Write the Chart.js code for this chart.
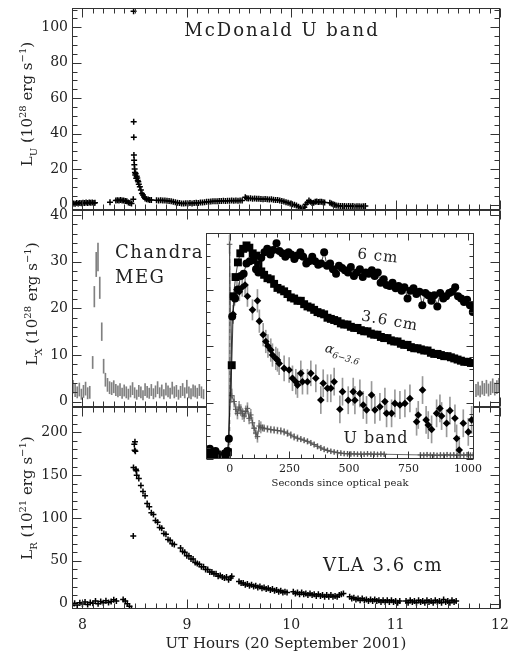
<!DOCTYPE html>
<html>
<head>
<meta charset="utf-8">
<title>Flare of 20 September 2001</title>
<script src="https://cdn.jsdelivr.net/npm/chart.js@4.4.1/dist/chart.umd.min.js"></script>
<style>
  html, body { margin: 0; padding: 0; background: #fff; }
  #wrap { position: relative; width: 512px; height: 653px; }
  #wrap canvas { position: absolute; left: 0; top: 0; }
</style>
</head>
<body>
<div id="wrap">
  <canvas id="uband" width="512" height="653"></canvas>
  <canvas id="xray" width="512" height="653"></canvas>
  <canvas id="radio" width="512" height="653"></canvas>
  <canvas id="inset" width="512" height="653"></canvas>
</div>
<script>
// Tick labels
const hourTicks = [8, 9, 10, 11, 12];
const uTicks = [0, 20, 40, 60, 80, 100];
const xrTicks = [0, 10, 20, 30, 40];
const vlaTicks = [0, 50, 100, 150, 200];
const secTicks = [0, 250, 500, 750, 1000];

// McDonald U band, L_U in 10^28 erg/s
const uHours = [
  7.900, 7.915, 7.930, 7.945, 7.960, 7.975, 7.990, 8.005, 8.020, 8.035,
  8.050, 8.065, 8.080, 8.095, 8.110, 8.120, 8.264, 8.320, 8.335, 8.350,
  8.365, 8.380, 8.395, 8.410, 8.425, 8.440, 8.455, 8.470, 8.487, 8.490,
  8.491, 8.492, 8.493, 8.495, 8.497, 8.500, 8.503, 8.506, 8.510, 8.515,
  8.520, 8.525, 8.530, 8.535, 8.540, 8.550, 8.560, 8.570, 8.580, 8.590,
  8.600, 8.615, 8.630, 8.645, 8.660, 8.71, 8.73, 8.75, 8.77, 8.79,
  8.81, 8.83, 8.85, 8.87, 8.89, 8.91, 8.93, 8.95, 8.97, 8.99,
  9.01, 9.03, 9.05, 9.07, 9.09, 9.11, 9.13, 9.15, 9.17, 9.19,
  9.21, 9.23, 9.25, 9.27, 9.29, 9.31, 9.33, 9.35, 9.37, 9.39,
  9.41, 9.43, 9.45, 9.47, 9.49, 9.51, 9.53, 9.56, 9.575, 9.59,
  9.61, 9.63, 9.65, 9.67, 9.69, 9.71, 9.73, 9.75, 9.77, 9.79,
  9.81, 9.83, 9.85, 9.87, 9.89, 9.91, 9.93, 9.95, 9.97, 9.99,
  10.01, 10.03, 10.05, 10.07, 10.09, 10.11, 10.125, 10.14, 10.155, 10.17,
  10.185, 10.20, 10.215, 10.23, 10.245, 10.26, 10.275, 10.29, 10.305, 10.32,
  10.37, 10.385, 10.40, 10.415, 10.43, 10.45, 10.47, 10.49, 10.51, 10.53,
  10.55, 10.57, 10.59, 10.61, 10.63, 10.65, 10.67, 10.69, 10.71
];
const uLum = [
  0.3, 0.6, 0.4, 0.8, 0.6, 0.9, 0.7, 1.0, 0.8, 1.1,
  0.9, 1.2, 1.0, 1.1, 0.9, 1.0, 1.3, 2.2, 2.4, 2.3,
  2.5, 2.3, 2.2, 2.0, 1.8, 1.2, 0.8, 0.6, 3.0, 109,
  46.7, 37.9, 27.9, 25.0, 22.5, 20.0, 18.0, 16.6, 17.5, 14.8,
  16.0, 15.0, 13.5, 12.9, 11.5, 10.0, 8.2, 6.2, 5.4, 4.2,
  3.4, 3.0, 2.8, 2.6, 2.5, 2.4, 2.3, 2.4, 2.2, 2.3,
  2.1, 2.0, 1.8, 1.6, 1.3, 1.0, 0.8, 0.6, 0.5, 0.7,
  0.5, 0.8, 0.6, 0.9, 1.0, 0.8, 1.1, 1.2, 1.3, 1.5,
  1.6, 1.7, 1.8, 1.8, 1.9, 2.0, 2.0, 2.1, 2.0, 2.1,
  2.1, 2.2, 2.1, 2.2, 2.1, 2.2, 2.2, 4.1, 3.6, 3.4,
  3.5, 3.3, 3.4, 3.2, 3.3, 3.1, 3.0, 3.1, 2.9, 2.8,
  2.9, 2.7, 2.6, 2.5, 2.3, 2.0, 1.7, 1.3, 1.0, 0.6,
  0.2, -0.2, -0.6, -1.2, -1.8, -2.4, -1.5, 0.2, 1.2, 2.2,
  1.6, 0.8, 1.0, 1.5, 1.7, 1.4, 1.6, 1.5, 1.3, 1.2,
  1.0, 0.6, 0.2, -0.2, -0.5, -0.7, -0.8, -0.9, -0.8, -1.0,
  -0.9, -1.0, -0.9, -1.1, -1.0, -1.0, -1.1, -1.0, -0.9
];

// Chandra MEG, L_X in 10^28 erg/s (bin centre, rate, 1 sigma)
const xrHours = [
  7.91, 7.93, 7.95, 7.97, 7.99, 8.01, 8.03, 8.05, 8.07, 8.098,
  8.114, 8.132, 8.149, 8.166, 8.185, 8.203, 8.22, 8.24, 8.26, 8.28,
  8.30, 8.32, 8.34, 8.36, 8.38, 8.40, 8.42, 8.44, 8.46, 8.48,
  8.50, 8.52, 8.54, 8.56, 8.58, 8.60, 8.62, 8.64, 8.66, 8.68,
  8.70, 8.72, 8.74, 8.76, 8.78, 8.80, 8.82, 8.84, 8.86, 8.88,
  8.90, 8.92, 8.94, 8.96, 8.98, 9.00, 9.02, 9.04, 9.06, 9.08,
  9.10, 9.12, 9.14, 9.16, 11.77, 11.79, 11.81, 11.83, 11.85, 11.87,
  11.89, 11.91, 11.93, 11.95, 11.97, 11.99
];
const xrRate = [
  3.2, 2.4, 2.0, 2.6, 1.6, 2.2, 2.8, 1.8, 2.0, 8.4,
  22.5, 29.4, 31.0, 24.4, 15.0, 7.6, 4.7, 3.6, 3.0, 2.8,
  3.2, 2.5, 2.2, 2.6, 1.8, 2.4, 2.0, 1.6, 2.2, 2.8,
  1.9, 1.5, 2.3, 2.0, 1.4, 2.6, 2.1, 1.8, 2.5, 1.7,
  2.2, 3.0, 1.9, 2.4, 1.6, 2.7, 2.2, 1.8, 2.9, 2.0,
  2.3, 1.5, 2.1, 2.6, 1.9, 3.2, 2.0, 1.7, 2.4, 2.2,
  1.8, 2.5, 2.0, 1.6, 2.4, 2.8, 2.2, 3.0, 2.6, 3.2,
  2.5, 2.9, 3.4, 2.7, 3.1, 3.5
];
const xrErr = [
  1.4, 1.3, 1.2, 1.4, 1.1, 1.3, 1.4, 1.2, 1.3, 1.3,
  2.2, 2.6, 3.0, 2.3, 1.9, 1.5, 1.4, 1.4, 1.3, 1.3,
  1.3, 1.2, 1.2, 1.3, 1.1, 1.2, 1.2, 1.1, 1.2, 1.3,
  1.1, 1.0, 1.2, 1.2, 1.0, 1.3, 1.2, 1.1, 1.2, 1.1,
  1.2, 1.3, 1.1, 1.2, 1.0, 1.3, 1.2, 1.1, 1.3, 1.2,
  1.2, 1.0, 1.2, 1.3, 1.1, 1.4, 1.2, 1.1, 1.2, 1.2,
  1.1, 1.2, 1.2, 1.0, 1.3, 1.4, 1.2, 1.4, 1.3, 1.4,
  1.3, 1.4, 1.5, 1.3, 1.4, 1.5
];

// VLA 3.6 cm, L_R in 10^21 erg/s
const vlaHours = [
  7.900, 7.925, 7.950, 7.975, 8.000, 8.025, 8.050, 8.075, 8.100, 8.125,
  8.150, 8.175, 8.200, 8.225, 8.250, 8.275, 8.300, 8.325, 8.39, 8.41,
  8.43, 8.45, 8.47, 8.48, 8.487, 8.489, 8.497, 8.500, 8.503, 8.507,
  8.512, 8.516, 8.52, 8.54, 8.56, 8.58, 8.60, 8.62, 8.64, 8.66,
  8.68, 8.70, 8.72, 8.74, 8.76, 8.78, 8.80, 8.82, 8.84, 8.86,
  8.88, 8.94, 8.96, 8.98, 9.00, 9.02, 9.04, 9.06, 9.08, 9.10,
  9.12, 9.14, 9.16, 9.18, 9.20, 9.22, 9.24, 9.26, 9.28, 9.30,
  9.32, 9.34, 9.36, 9.38, 9.40, 9.42, 9.43, 9.50, 9.52, 9.54,
  9.56, 9.58, 9.60, 9.62, 9.64, 9.66, 9.68, 9.70, 9.72, 9.74,
  9.76, 9.78, 9.80, 9.82, 9.84, 9.86, 9.88, 9.90, 9.92, 9.94,
  9.96, 10.02, 10.04, 10.06, 10.08, 10.10, 10.12, 10.14, 10.16, 10.18,
  10.20, 10.22, 10.24, 10.26, 10.28, 10.30, 10.32, 10.34, 10.36, 10.38,
  10.40, 10.42, 10.44, 10.46, 10.48, 10.50, 10.56, 10.58, 10.60, 10.62,
  10.64, 10.66, 10.68, 10.70, 10.72, 10.74, 10.76, 10.78, 10.80, 10.82,
  10.84, 10.86, 10.88, 10.90, 10.92, 10.94, 10.96, 10.98, 11.00, 11.02,
  11.04, 11.10, 11.12, 11.14, 11.16, 11.18, 11.20, 11.22, 11.24, 11.26,
  11.28, 11.30, 11.32, 11.34, 11.36, 11.38, 11.40, 11.42, 11.44, 11.46,
  11.48, 11.50, 11.52, 11.54, 11.56, 11.58
];
const vlaLum = [
  -2.0, 0.5, -1.5, 1.0, -0.5, 2.0, -1.0, 1.5, 0.5, 3.0,
  0.0, 2.5, 1.0, 3.5, 1.5, 2.5, 4.5, 3.0, 5.0, 3.0,
  0.0, -3.0, -6.0, -8.5, 79, 159, 186, 179, 189, 178,
  157, 155, 150, 146, 138, 131, 126, 117, 113, 106,
  104, 97, 95, 89, 88, 82, 81, 75, 74, 70,
  69, 65, 61, 60, 56, 56, 52, 52, 48, 47,
  46, 43, 43, 40, 40, 37, 37, 35, 35, 32,
  33, 31, 30, 31, 28, 30, 32, 26, 24, 24,
  22, 23, 21, 22, 20, 21, 19, 20, 18, 19,
  17, 18, 16, 17, 15, 16, 14, 15, 13, 14,
  13, 14, 12, 13, 11, 13, 11, 12, 10, 12,
  10, 11, 9, 11, 9, 10, 8, 10, 8, 10,
  8, 9, 8, 10, 11, 12, 8, 6, 7, 5,
  6, 4, 6, 4, 5, 3, 5, 3, 5, 3,
  4, 2, 4, 2, 4, 2, 4, 2, 3, 1,
  3, 3, 1, 4, 2, 3, 1, 4, 2, 3,
  1, 4, 2, 3, 1, 4, 2, 3, 1, 5,
  2, 3, 1, 4, 2, 3
];

// Inset: seconds since optical peak, scaled flux (0-100)
const sec6 = [
  -96, -84, -72, -60, -20, -10, -4, 10, 22, 34,
  46, 58, 70, 84, 98, 110, 120, 132, 145, 157,
  170, 182, 196, 208, 220, 233, 246, 258, 271, 283,
  296, 308, 321, 333, 346, 358, 371, 383, 396, 408,
  421, 433, 446, 458, 471, 483, 496, 508, 521, 533,
  546, 558, 571, 583, 596, 608, 621, 633, 646, 658,
  671, 683, 696, 708, 721, 733, 746, 758, 771, 783,
  796, 808, 821, 833, 846, 858, 871, 883, 896, 908,
  921, 933, 946, 958, 971, 983, 996, 1008, 1020
];
const flux6 = [
  3.5, 4.5, 2.5, 3.5, 2.5, 3.5, 9, 63, 71, 75,
  81, 82, 86.5, 87.5, 88, 84, 82.5, 89, 91.5, 93,
  90.5, 92.5, 95.5, 92, 91, 89.5, 91.5, 90.5, 88.5, 90,
  91.5, 89.5, 86.5, 87.5, 89.5, 87.5, 86, 86.5, 91.5, 85.5,
  86.5, 84, 82, 85.5, 84.5, 83.5, 82.5, 85, 81, 82.5,
  84, 80.5, 82.5, 82, 83.5, 81, 82.5, 78, 79.5, 77,
  76.5, 78, 75.5, 76.5, 74.5, 76, 71, 74.5, 75.5, 73,
  74, 68, 73.5, 72.5, 70, 72.5, 67.5, 73.5, 71, 72,
  73.5, 74, 76, 72, 71, 69.5, 70.5, 68, 65
];
const sec36 = [
  -98, -88, -78, -66, -54, -18, -8, 8, 16, 24,
  34, 44, 56, 70, 82, 96, 110, 120, 132, 144,
  158, 172, 186, 200, 214, 228, 242, 256, 270, 284,
  298, 312, 326, 340, 354, 368, 382, 396, 410, 424,
  438, 452, 466, 480, 494, 508, 522, 536, 550, 564,
  578, 592, 606, 620, 634, 648, 662, 676, 690, 704,
  718, 732, 746, 760, 774, 788, 802, 816, 830, 844,
  858, 872, 886, 900, 914, 928, 942, 956, 970, 984,
  998, 1012, 1022
];
const flux36 = [
  2, 3, 1.5, 2.5, 2, 2, 3, 41.5, 72, 80.5,
  87, 91, 93, 94.5, 93.5, 91, 90, 86, 83, 81.5,
  80, 79.5, 77.5, 75.7, 75, 74.2, 73, 71.5, 71, 70,
  70, 68.5, 67.5, 67, 66, 65, 64.5, 64, 62.5, 62,
  61.5, 61, 60, 59.5, 59.5, 58.5, 58, 58, 57, 56.5,
  56.5, 55.5, 55, 55, 54, 53.5, 53.5, 52.5, 52, 52,
  51, 50.5, 50.5, 49.5, 49, 49, 48.5, 48, 48, 47,
  46.5, 46.5, 46, 45.5, 45.5, 45, 44.5, 44, 43.5, 43,
  43, 42.5, 42.5
];
const secAlpha = [
  14, 20, 30, 40, 52, 64, 74, 95, 116, 124,
  140, 151, 160, 172, 179, 193, 200, 207, 228, 249,
  263, 277, 284, 298, 305, 326, 340, 361, 382, 392,
  410, 424, 438, 462, 473, 497, 518, 525, 546, 560,
  574, 595, 609, 630, 651, 658, 679, 693, 714, 735,
  756, 784, 791, 809, 824, 833, 847, 868, 882, 889,
  910, 924, 945, 952, 963, 980, 1001, 1015
];
const alphaVal = [
  64, 72, 75, 74, 76, 77, 72, 66, 70, 61,
  55, 52, 50, 48.2, 46, 44.5, 43.8, 42.3, 40.1, 39.4,
  35.7, 34.2, 32.7, 37.9, 34.2, 34.2, 37.9, 35.7, 26.1, 33.5,
  31.3, 31.3, 34.2, 22, 29.8, 26, 29.8, 26, 29, 23.9,
  21.7, 28.3, 21.7, 23.1, 25.4, 20.2, 20.2, 24.6, 23.9, 24.6,
  26.8, 16.5, 19.5, 30.5, 17.3, 15, 13.1, 20.2, 22.4, 19,
  15.8, 21.4, 18, 9.1, 4, 15.8, 12, 17.3
];
const alphaErr = [
  4, 4, 4, 4, 4, 4.5, 4.5, 4.5, 5, 5,
  5, 5, 5, 5, 5, 5, 5, 5, 5.5, 5.5,
  5.5, 5.5, 5.5, 5.5, 5.5, 5.5, 5.5, 6, 6, 6,
  6, 6, 6, 6, 6, 6, 6, 6, 6, 6,
  6, 6, 6, 6, 6, 6, 6, 6, 6, 6,
  6, 6, 6, 6, 6, 6, 6, 6, 6, 6,
  6, 6, 6, 6, 6, 6, 6, 6
];
const secU = [
  -98, -88, -78, -68, -58, -48, -38, -28, -18, -10,
  -4, -1, 8, 18, 25, 32, 39, 46, 53, 60,
  67, 74, 81, 88, 95, 102, 109, 116, 123, 130,
  137, 144, 158, 172, 186, 200, 214, 228, 242, 256,
  270, 284, 298, 312, 326, 340, 354, 368, 382, 396,
  410, 424, 438, 452, 466, 480, 494, 508, 522, 536,
  550, 564, 578, 592, 606, 620, 634, 648, 800, 814,
  828, 842, 856, 870, 884, 898, 912, 926, 940, 954,
  968, 982, 996, 1010, 1022
];
const uFlux = [
  1.5, 2, 1.5, 2, 1.5, 2, 1.5, 2, 1.8, 2.5,
  4, 95, 28, 25.4, 22, 20.2, 23, 21.6, 20, 19,
  21, 22.4, 18, 19.5, 16, 13.6, 11.5, 9.9, 14.6, 14,
  13.8, 13.6, 13.3, 13, 12.8, 12.6, 12.4, 12, 11.4, 10.6,
  9.8, 9.2, 8.8, 8.3, 7.8, 7.1, 6.4, 5.6, 4.9, 4.3,
  3.8, 3.4, 3.1, 2.8, 2.6, 2.4, 2.3, 2.2, 2.3, 2.1,
  2.2, 2.1, 2.3, 2.1, 2.2, 2.0, 2.2, 2.1, 1.8, 1.7,
  1.9, 1.7, 1.8, 1.6, 1.8, 1.7, 1.9, 1.7, 1.8, 1.6,
  1.8, 1.7, 1.9, 1.7, 1.8
];
const uErr = [
  0.8, 0.8, 0.8, 0.8, 0.8, 0.8, 0.8, 0.8, 0.8, 0.8,
  0.8, 4, 3, 2.5, 2.5, 2.5, 2.5, 2.5, 2.5, 2.5,
  2.5, 2.5, 2.5, 2.5, 2.5, 2.5, 2.5, 2.5, 2.5, 2.5,
  1.5, 1.5, 1.5, 1.5, 1.5, 1.5, 1.5, 1.5, 1.5, 1.5,
  1.5, 1.5, 1.2, 1.2, 1.2, 1.2, 1.2, 1.2, 1.2, 1.2,
  1, 1, 1, 1, 1, 1, 1, 1, 1, 1,
  1, 1, 1, 1, 1, 1, 1, 1, 1, 1,
  1, 1, 1, 1, 1, 1, 1, 1, 1, 1,
  1, 1, 1, 1, 1
];
// dashed marker at the optical peak
const peakSec = [0, 0];
const peakSpan = [0, 100];

// Axis labels with sub/superscripts: [text, kind]
const uAxisLabel = [['L', ''], ['U', 'sub'], [' (10', ''], ['28', 'sup'], [' erg s', ''], ['\u22121', 'sup'], [')', '']];
const xAxisLabel = [['L', ''], ['X', 'sub'], [' (10', ''], ['28', 'sup'], [' erg s', ''], ['\u22121', 'sup'], [')', '']];
const rAxisLabel = [['L', ''], ['R', 'sub'], [' (10', ''], ['21', 'sup'], [' erg s', ''], ['\u22121', 'sup'], [')', '']];

const serif = "'DejaVu Serif', 'Liberation Serif', serif";
const ink = '#222';
Chart.defaults.font.family = serif;
Chart.defaults.color = ink;

function pairs(xs, ys) {
  return xs.map((x, i) => ({ x, y: ys[i] }));
}

function errBars(xs, ys, es) {
  return xs.map((x, i) => ({ x, y: [ys[i] - es[i], ys[i] + es[i]] }));
}

/**
 * Draw a line of text with sub/superscript pieces, centred on the origin
 */
function drawRich(ctx, parts, size, spacing, align) {
  const small = Math.round(size * 0.68);
  const spec = parts.map(([text, kind]) => {
    const italic = kind.startsWith('it');
    const sz = (kind === 'sub' || kind === 'sup' || kind === 'itsub') ? small : size;
    const dy = kind.endsWith('sub') ? size * 0.28 : (kind === 'sup' ? -size * 0.42 : 0);
    return { text, font: `${italic ? 'italic ' : ''}${sz}px ${serif}`, dy };
  });
  ctx.letterSpacing = spacing + 'px';
  let total = 0;
  spec.forEach(p => { ctx.font = p.font; p.w = ctx.measureText(p.text).width; total += p.w; });
  let x = align === 'left' ? 0 : -total / 2;
  ctx.fillStyle = ink;
  ctx.textAlign = 'left';
  ctx.textBaseline = 'alphabetic';
  const base = size * 0.36;
  spec.forEach(p => { ctx.font = p.font; ctx.fillText(p.text, x, base + p.dy); x += p.w; });
}

// Plugin: free text labels
function textLayer(items) {
  return {
    id: 'textLayer',
    afterDatasetsDraw(chart) {
      const ctx = chart.ctx;
      items.forEach(t => {
        ctx.save();
        ctx.translate(t.x, t.y);
        ctx.rotate((t.rot || 0) * Math.PI / 180);
        drawRich(ctx, t.parts, t.size, t.spacing || 0, t.align);
        ctx.restore();
      });
    }
  };
}

// Plugin: box frame with inward major/minor ticks on all four sides
function frameTicks(t) {
  return {
    id: 'frameTicks',
    afterDatasetsDraw(chart) {
      const { ctx, chartArea: a } = chart;
      const xs = chart.scales.x, ys = chart.scales.y;
      const L = Math.round(a.left) + 0.5, R = Math.round(a.right) - 0.5;
      const T = Math.round(a.top) + 0.5, B = Math.round(a.bottom) - 0.5;
      ctx.save();
      ctx.strokeStyle = '#333';
      ctx.lineWidth = 1;
      ctx.strokeRect(L, T, R - L, B - T);
      ctx.beginPath();
      const marks = (min, max, minor, major, draw) => {
        for (let k = Math.ceil(min / minor - 1e-9); k * minor <= max + 1e-9; k++) {
          const v = k * minor;
          const isMajor = Math.abs(v / major - Math.round(v / major)) < 1e-6;
          draw(v, isMajor ? t.major : t.minor);
        }
      };
      marks(xs.min, xs.max, t.xMinor, t.xMajor, (v, len) => {
        const px = Math.round(xs.getPixelForValue(v)) + 0.5;
        ctx.moveTo(px, B); ctx.lineTo(px, B - len);
        ctx.moveTo(px, T); ctx.lineTo(px, T + len);
      });
      marks(ys.min, ys.max, t.yMinor, t.yMajor, (v, len) => {
        const py = Math.round(ys.getPixelForValue(v)) + 0.5;
        ctx.moveTo(L, py); ctx.lineTo(L + len, py);
        ctx.moveTo(R, py); ctx.lineTo(R - len, py);
      });
      ctx.stroke();
      ctx.restore();
    }
  };
}

// Plugin: white paper behind the inset
const paperFill = {
  id: 'paperFill',
  beforeDraw(chart) {
    const { ctx, chartArea: a } = chart;
    ctx.save();
    ctx.fillStyle = '#fff';
    ctx.fillRect(a.left, a.top, a.width, a.height);
    ctx.restore();
  }
};

function fixedTicks(values) {
  return scale => { scale.ticks = values.map(v => ({ value: v })); };
}

const plainLabel = v => String(v);

function yAxis(min, max, values) {
  return {
    type: 'linear', min, max,
    grid: { display: false, drawTicks: false },
    border: { display: false },
    ticks: { font: { family: serif, size: 14 }, color: ink, padding: 4, callback: plainLabel },
    afterBuildTicks: fixedTicks(values),
    afterFit: s => { s.width = 50; s.paddingTop = 0; s.paddingBottom = 0; }
  };
}

function hourAxis(show) {
  return {
    type: 'linear', min: 7.9, max: 12, offset: false, display: show,
    grid: { display: false, drawTicks: false, offset: false },
    border: { display: false },
    ticks: { font: { family: serif, size: 14 }, color: ink, padding: 8, autoSkip: false, maxRotation: 0, callback: plainLabel },
    title: { display: show, text: 'UT Hours (20 September 2001)', font: { family: serif, size: 15 }, color: ink, padding: { top: 0, bottom: 0 } },
    afterBuildTicks: fixedTicks(hourTicks),
    afterFit: s => { if (show) { s.height = 44; s.paddingLeft = 0; s.paddingRight = 0; } }
  };
}

const crossMarks = { showLine: false, pointStyle: 'cross', pointRadius: 3, pointBorderWidth: 1.5, borderColor: '#000' };

/**
 * One strip of the stacked figure, sharing the UT hour axis
 */
function makePanel(id, top, bottom, y, datasets, ticks, notes) {
  return new Chart(document.getElementById(id), {
    type: 'scatter',
    data: { datasets },
    options: {
      responsive: false,
      animation: false,
      devicePixelRatio: 1,
      layout: { padding: { left: 22, right: 12, top, bottom } },
      scales: { x: hourAxis(id === 'radio'), y },
      plugins: { legend: { display: false }, tooltip: { enabled: false } }
    },
    plugins: [frameTicks(ticks), textLayer(notes)]
  });
}

makePanel('uband', 8, 443, yAxis(-3.1, 110.9, uTicks),
  [{ label: 'U band', data: pairs(uHours, uLum), ...crossMarks }],
  { xMinor: 0.1, xMajor: 1, yMinor: 5, yMajor: 20, minor: 5, major: 9 },
  [
    { x: 282, y: 30, size: 18, spacing: 2, parts: [['McDonald U band', '']] },
    { x: 27, y: 104, rot: -90, size: 15, parts: uAxisLabel }
  ]);

makePanel('xray', 210, 246, yAxis(-1.14, 41.07, xrTicks),
  [{
    type: 'bar', label: 'MEG', data: errBars(xrHours, xrRate, xrErr),
    backgroundColor: '#808080', borderWidth: 0, barThickness: 1, grouped: false
  }],
  { xMinor: 0.1, xMajor: 1, yMinor: 2, yMajor: 10, minor: 5, major: 9 },
  [
    { x: 115, y: 252, size: 18, spacing: 1.5, align: 'left', parts: [['Chandra', '']] },
    { x: 115, y: 277, size: 18, spacing: 1.5, align: 'left', parts: [['MEG', '']] },
    { x: 32, y: 304, rot: -90, size: 15, parts: xAxisLabel }
  ]);

makePanel('radio', 407, 0, yAxis(-6.2, 229.5, vlaTicks),
  [{ label: 'VLA 3.6 cm', data: pairs(vlaHours, vlaLum), ...crossMarks }],
  { xMinor: 0.1, xMajor: 1, yMinor: 10, yMajor: 50, minor: 5, major: 9 },
  [
    { x: 383, y: 565, size: 18, spacing: 1.5, parts: [['VLA 3.6 cm', '']] },
    { x: 27, y: 498, rot: -90, size: 15, parts: rAxisLabel }
  ]);

// Inset: the first 1000 s after the optical peak
new Chart(document.getElementById('inset'), {
  type: 'scatter',
  data: {
    datasets: [
      {
        label: '6 cm', data: pairs(sec6, flux6), showLine: true, borderColor: '#111', borderWidth: 0.8,
        pointStyle: 'circle', pointRadius: 4, pointBackgroundColor: '#000', pointBorderWidth: 0
      },
      {
        label: '3.6 cm', data: pairs(sec36, flux36), showLine: true, borderColor: '#111', borderWidth: 0.8,
        pointStyle: 'rect', pointRadius: 5.6, pointBackgroundColor: '#000', pointBorderWidth: 0
      },
      {
        label: 'alpha', data: pairs(secAlpha, alphaVal), showLine: false,
        pointStyle: 'rectRot', pointRadius: 3.8, pointBackgroundColor: '#000', pointBorderWidth: 0
      },
      {
        label: 'U band', data: pairs(secU, uFlux), showLine: true, borderColor: '#444', borderWidth: 0.8,
        pointStyle: 'cross', pointRadius: 2.8, pointBorderColor: '#555', pointBorderWidth: 1
      },
      {
        type: 'bar', label: 'alpha error', data: errBars(secAlpha, alphaVal, alphaErr),
        backgroundColor: '#9a9a9a', borderWidth: 0, barThickness: 1, grouped: false
      },
      {
        type: 'bar', label: 'U error', data: errBars(secU, uFlux, uErr),
        backgroundColor: '#9a9a9a', borderWidth: 0, barThickness: 1, grouped: false
      },
      {
        label: 'peak', data: pairs(peakSec, peakSpan), showLine: true, borderColor: '#8a8a8a',
        borderWidth: 1, borderDash: [4, 3], pointRadius: 0
      }
    ]
  },
  options: {
    responsive: false,
    animation: false,
    devicePixelRatio: 1,
    layout: { padding: { left: 206, right: 38, top: 233, bottom: 159 } },
    scales: {
      x: {
        type: 'linear', min: -100, max: 1025, offset: false,
        grid: { display: false, drawTicks: false, offset: false },
        border: { display: false },
        ticks: { font: { family: serif, size: 11 }, color: ink, padding: 4, autoSkip: false, maxRotation: 0, callback: plainLabel },
        title: { display: true, text: 'Seconds since optical peak', font: { family: serif, size: 10 }, color: ink, padding: { top: 0, bottom: 5 } },
        afterBuildTicks: fixedTicks(secTicks),
        afterFit: s => { s.height = 35; s.paddingLeft = 0; s.paddingRight = 0; }
      },
      y: { type: 'linear', min: 0, max: 100, display: false }
    },
    plugins: { legend: { display: false }, tooltip: { enabled: false } }
  },
  plugins: [
    paperFill,
    frameTicks({ xMinor: 50, xMajor: 250, yMinor: 5, yMajor: 25, minor: 4, major: 7 }),
    textLayer([
      { x: 378, y: 255, rot: 6, size: 15, spacing: 1, parts: [['6 cm', '']] },
      { x: 390, y: 320, rot: 10, size: 15, spacing: 1, parts: [['3.6 cm', '']] },
      { x: 343, y: 352, rot: 16, size: 13, parts: [['\u03b1', 'it'], ['6\u22123.6', 'itsub']] },
      { x: 376, y: 437, size: 16, spacing: 1, parts: [['U band', '']] }
    ])
  ]
});
</script>
</body>
</html>
